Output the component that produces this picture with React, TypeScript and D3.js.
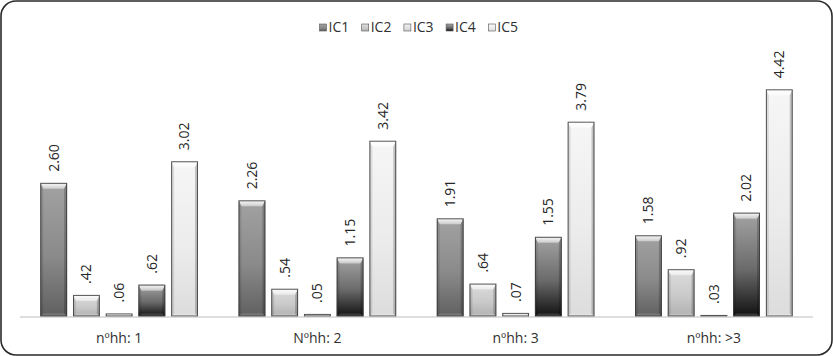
import React from "react";
import * as d3 from "d3";

const categories = ["nºhh: 1", "Nºhh: 2", "nºhh: 3", "nºhh: >3"];
const seriesNames = ["IC1", "IC2", "IC3", "IC4", "IC5"];
const ic1 = [2.6, 2.26, 1.91, 1.58];
const ic2 = [0.42, 0.54, 0.64, 0.92];
const ic3 = [0.06, 0.05, 0.07, 0.03];
const ic4 = [0.62, 1.15, 1.55, 2.02];
const ic5 = [3.02, 3.42, 3.79, 4.42];
const seriesValues = [ic1, ic2, ic3, ic4, ic5];
const seriesColors: string[][] = [
  ["#a2a2a2", "#8a8a8a", "#606060"],
  ["#dcdcdc", "#cacaca", "#b0b0b0"],
  ["#f0f0f0", "#e2e2e2", "#d0d0d0"],
  ["#a4a4a4", "#6a6a6a", "#111111"],
  ["#f6f6f6", "#ececec", "#dcdcdc"],
];

const W = 833;
const H = 356;

function fmt(v: number) {
  const s = v.toFixed(2);
  return v < 1 ? s.replace(/^0/, "") : s;
}

export default function App() {
  const x0 = d3.scaleBand<string>().domain(categories).range([20, 813]).paddingInner(0).paddingOuter(0);
  const x1 = d3
    .scaleBand<string>()
    .domain(seriesNames)
    .range([0, x0.bandwidth()])
    .paddingInner(0.18)
    .paddingOuter(0.62);
  const y = d3.scaleLinear().domain([0, 5]).range([316.5, 59.5]);
  const font = "'Open Sans', 'DejaVu Sans', sans-serif";

  const bars: JSX.Element[] = [];
  categories.forEach((c, ci) => {
    seriesNames.forEach((s, si) => {
      const v = seriesValues[si][ci];
      const bx = (x0(c) ?? 0) + (x1(s) ?? 0);
      const bw = x1.bandwidth();
      const by = y(v);
      const bh = y(0) - by;
      const bt = Math.min(6, bh / 2);
      const bs = Math.min(3, bh / 2);
      const bb = Math.min(3, bh / 2);
      bars.push(
        <g key={`${ci}-${si}`}>
          <rect x={bx} y={by} width={bw} height={bh} fill={`url(#g${si})`} />
          <path
            d={`M${bx},${by}L${bx + bw},${by}L${bx + bw - bs},${by + bt}L${bx + bs},${by + bt}Z`}
            fill="url(#topBevel)"
          />
          <path
            d={`M${bx},${by}L${bx + bs},${by + bt}L${bx + bs},${by + bh - bb}L${bx},${by + bh}Z`}
            fill="#000"
            fillOpacity={0.1}
          />
          <path
            d={`M${bx + bw},${by}L${bx + bw - bs},${by + bt}L${bx + bw - bs},${by + bh - bb}L${bx + bw},${by + bh}Z`}
            fill="#000"
            fillOpacity={0.2}
          />
          <path
            d={`M${bx},${by + bh}L${bx + bs},${by + bh - bb}L${bx + bw - bs},${by + bh - bb}L${bx + bw},${by + bh}Z`}
            fill="#ffffff"
            fillOpacity={0.15}
          />
          <rect
            x={bx + 0.5}
            y={by + 0.5}
            width={bw - 1}
            height={Math.max(0, bh - 1)}
            fill="none"
            stroke="#3a3a3a"
            strokeOpacity={0.85}
            strokeWidth={1}
          />
          <text
            transform={`translate(${bx + bw / 2},${by - 11}) rotate(-90)`}
            dy="0.35em"
            fontFamily={font}
            fontSize={14}
            fill="#262626"
          >
            {fmt(v)}
          </text>
        </g>
      );
    });
  });

  return (
    <svg
      width={W}
      height={H}
      style={{ position: "absolute", left: 0, top: 0, background: "#fff" }}
    >
      <defs>
        {seriesColors.map((c, i) => (
          <linearGradient key={i} id={`g${i}`} x1="0" y1="0" x2="0" y2="1">
            <stop offset="0%" stopColor={c[0]} />
            <stop offset="55%" stopColor={c[1]} />
            <stop offset="100%" stopColor={c[2]} />
          </linearGradient>
        ))}
        <linearGradient id="topBevel" x1="0" y1="0" x2="0" y2="1">
          <stop offset="0%" stopColor="#ffffff" stopOpacity={0.95} />
          <stop offset="100%" stopColor="#ffffff" stopOpacity={0.45} />
        </linearGradient>
      </defs>
      <rect x={1} y={1} width={W - 2} height={H - 2} rx={15} ry={15} fill="#fff" stroke="#2a2a2a" strokeWidth={1.6} />

      {seriesNames.map((s, i) => {
        const lx = 319.5 + i * 42.2;
        return (
          <g key={s}>
            <rect x={lx} y={24} width={7} height={7} fill={`url(#g${i})`} stroke="#555" strokeWidth={0.6} />
            <text x={lx + 9} y={31.5} fontFamily={font} fontSize={14} fill="#303030">
              {s}
            </text>
          </g>
        );
      })}

      {bars}

      <line x1={20} x2={813} y1={y(0) + 0.5} y2={y(0) + 0.5} stroke="#bdbdbd" strokeWidth={1} />

      {categories.map((c) => (
        <text
          key={c}
          x={(x0(c) ?? 0) + x0.bandwidth() / 2}
          y={343}
          textAnchor="middle"
          fontFamily={font}
          fontSize={14}
          fill="#303030"
        >
          {c}
        </text>
      ))}
    </svg>
  );
}
